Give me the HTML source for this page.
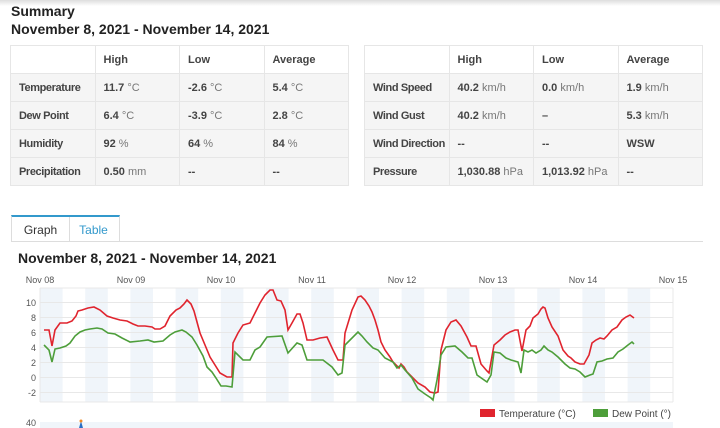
<!DOCTYPE html>
<html><head><meta charset="utf-8"><style>
body{margin:0;width:720px;height:428px;overflow:hidden;background:#fff;font-family:"Liberation Sans",sans-serif;color:#333;position:relative}
.shade{position:absolute;left:0;top:0;width:720px;height:6px;background:linear-gradient(#ddd,#fff)}
h1{position:absolute;left:11px;top:3px;margin:0;font-size:14px;font-weight:bold;color:#222}
h2{position:absolute;left:11px;top:21px;margin:0;font-size:14px;font-weight:bold;color:#222}
table{position:absolute;top:45px;border-collapse:collapse;font-size:11px;font-weight:bold;color:#444;table-layout:fixed}
td{border:1px solid #e6e6e6;height:27px;padding:0 0 0 8px;background:#f5f5f5;white-space:nowrap;overflow:hidden}
td:first-child{letter-spacing:-0.4px}
tr:first-child td{background:#fff}
td span{font-weight:normal;color:#777}
.tab{position:absolute;top:215px;height:24px;line-height:26px;font-size:12px;text-align:center;border:1px solid #ddd;border-top:2px solid #39c;border-bottom:none}
</style></head><body>
<div class="shade"></div>
<h1>Summary</h1>
<h2>November 8, 2021 - November 14, 2021</h2>
<table style="left:10px;width:339px">
<tr><td></td><td>High</td><td>Low</td><td>Average</td></tr>
<tr><td>Temperature</td><td>11.7 <span>°C</span></td><td>-2.6 <span>°C</span></td><td>5.4 <span>°C</span></td></tr>
<tr><td>Dew Point</td><td>6.4 <span>°C</span></td><td>-3.9 <span>°C</span></td><td>2.8 <span>°C</span></td></tr>
<tr><td>Humidity</td><td>92 <span>%</span></td><td>64 <span>%</span></td><td>84 <span>%</span></td></tr>
<tr><td>Precipitation</td><td>0.50 <span>mm</span></td><td>--</td><td>--</td></tr>
</table>
<table style="left:364px;width:339px">
<tr><td></td><td>High</td><td>Low</td><td>Average</td></tr>
<tr><td>Wind Speed</td><td>40.2 <span>km/h</span></td><td>0.0 <span>km/h</span></td><td>1.9 <span>km/h</span></td></tr>
<tr><td>Wind Gust</td><td>40.2 <span>km/h</span></td><td>–</td><td>5.3 <span>km/h</span></td></tr>
<tr><td>Wind Direction</td><td>--</td><td>--</td><td>WSW</td></tr>
<tr><td>Pressure</td><td>1,030.88 <span>hPa</span></td><td>1,013.92 <span>hPa</span></td><td>--</td></tr>
</table>
<div style="position:absolute;left:11px;top:241px;width:692px;border-top:1px solid #ddd"></div>
<div class="tab" style="left:11px;width:57px;color:#333">Graph</div>
<div class="tab" style="left:68px;width:51px;color:#39c;border-left:none">Table</div>
<div style="position:absolute;left:18px;top:250px;font-size:14px;font-weight:bold;color:#222">November 8, 2021 - November 14, 2021</div>
<svg width="720" height="428" style="position:absolute;left:0;top:0" font-family="Liberation Sans" font-size="9" fill="#555">
<g fill="#f0f5fa">
<rect x="40" y="288" width="22.6" height="114"/><rect x="85.2" y="288" width="22.6" height="114"/>
<rect x="130.4" y="288" width="22.6" height="114"/><rect x="175.6" y="288" width="22.6" height="114"/>
<rect x="220.8" y="288" width="22.6" height="114"/><rect x="266" y="288" width="22.6" height="114"/>
<rect x="311.2" y="288" width="22.6" height="114"/><rect x="356.4" y="288" width="22.6" height="114"/>
<rect x="401.6" y="288" width="22.6" height="114"/><rect x="446.8" y="288" width="22.6" height="114"/>
<rect x="492" y="288" width="22.6" height="114"/><rect x="537.2" y="288" width="22.6" height="114"/>
<rect x="582.4" y="288" width="22.6" height="114"/><rect x="627.6" y="288" width="22.6" height="114"/>
<rect x="40" y="422" width="633" height="6"/>
</g>
<g stroke="#e8e8e8" stroke-width="1">
<line x1="40" x2="673" y1="288" y2="288"/><line x1="40" x2="673" y1="302.5" y2="302.5"/><line x1="40" x2="673" y1="317.5" y2="317.5"/><line x1="40" x2="673" y1="332.5" y2="332.5"/><line x1="40" x2="673" y1="347.5" y2="347.5"/><line x1="40" x2="673" y1="362.5" y2="362.5"/><line x1="40" x2="673" y1="377.5" y2="377.5"/><line x1="40" x2="673" y1="392.5" y2="392.5"/><line x1="40" x2="673" y1="402" y2="402"/>
<line x1="673" x2="673" y1="288" y2="402"/><line x1="40" x2="40" y1="288" y2="402"/>
</g>
<g text-anchor="end"><text x="36" y="306">10</text><text x="36" y="321">8</text><text x="36" y="336">6</text><text x="36" y="351">4</text><text x="36" y="366">2</text><text x="36" y="381">0</text><text x="36" y="396">-2</text><text x="36" y="426">40</text></g>
<g text-anchor="middle"><text x="40" y="283">Nov 08</text><text x="131" y="283">Nov 09</text><text x="221" y="283">Nov 10</text><text x="312" y="283">Nov 11</text><text x="402" y="283">Nov 12</text><text x="493" y="283">Nov 13</text><text x="583" y="283">Nov 14</text><text x="673" y="283">Nov 15</text></g>
<polyline fill="none" stroke="#e0242e" stroke-width="1.6" points="44,330 49,330 52,346 55,330 60,323 67,323 72,321 76,316 78,311 82,310 88,308 94,307 100,310 107,316 113,318 120,320 127,321 133,324 138,326 145,326 152,327 155,329 160,329 165,326 170,316 176,310 180,308 184,304 187,300 191,304 194,311 197,322 200,333 205,345 210,357 215,365 220,373 227,377 232,377 233,343 238,333 243,325 250,323 255,313 260,303 265,295 270,290 273,290 277,300 281,301 285,310 288,330 292,323 297,314 300,314 303,323 307,340 313,340 320,338 327,337 333,350 338,360 343,360 345,333 352,310 358,297 361,296 365,300 369,306 372,312 375,320 378,330 381,342 385,350 390,357 393,362 396,365 399,368 401,364 404,367 407,372 412,377 418,383 425,387 430,392 435,393 438,392 441,350 446,330 451,322 456,320 461,326 467,337 471,346 476,346 481,364 487,371 489,373 494,345 500,340 505,335 510,332 515,330 518,330 522,351 526,330 530,326 533,318 538,314 541,309 543,307 545,308 548,318 552,327 558,336 563,350 568,356 571,358 575,362 580,364 584,364 589,355 592,343 596,340 600,338 604,339 607,336 612,330 617,327 622,320 626,317 630,315 634,318"/>
<polyline fill="none" stroke="#4d9e3a" stroke-width="1.6" points="44,345 49,350 52,362 55,349 60,348 66,346 70,343 75,336 80,332 85,330 90,329 97,328 102,329 108,333 115,334 122,338 130,342 140,341 148,340 154,342 163,341 170,335 175,332 182,330 186,332 192,337 197,345 203,356 207,367 212,372 216,378 221,386 226,386 232,387 235,352 243,360 250,360 255,350 260,347 267,337 282,336 288,353 297,343 302,345 307,360 323,360 332,367 338,375 342,373 345,345 358,332 362,336 367,342 373,348 378,350 385,358 393,362 397,368 401,365 405,370 412,378 418,389 425,394 431,398 433,400 437,380 441,355 446,347 455,346 462,352 468,358 472,358 477,375 487,382 491,375 494,352 500,353 506,358 511,360 518,362 521,373 524,350 528,352 532,350 536,353 541,350 544,346 548,350 552,352 558,357 565,364 570,368 575,369 580,372 585,377 590,375 593,374 597,362 602,361 607,359 613,358 618,352 623,349 628,345 632,342 634,344"/>
<polygon points="79,428 81,421 83,428" fill="#2a6fc4"/><circle cx="81" cy="421" r="1.5" fill="#f08a24"/>
<rect x="480" y="409" width="15" height="8" fill="#e0242e"/><text x="499" y="417" font-size="10" fill="#444">Temperature (°C)</text>
<rect x="593" y="409" width="15" height="8" fill="#4d9e3a"/><text x="612" y="417" font-size="10" fill="#444">Dew Point (°)</text>
</svg>
</body></html>
